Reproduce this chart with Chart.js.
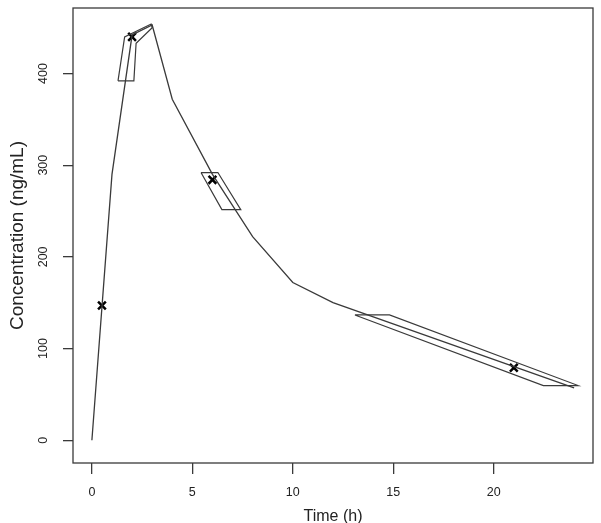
<!DOCTYPE html>
<html>
<head>
<meta charset="utf-8">
<script src="https://cdn.jsdelivr.net/npm/chart.js@4.4.1/dist/chart.umd.min.js"></script>
<style>
  html, body { margin: 0; padding: 0; background: #fff; }
  #wrap { width: 601px; height: 523px; position: relative; }
</style>
</head>
<body>
<div id="wrap"><canvas id="chart"></canvas></div>
<script>
// curva de concentración
const curveTime = [0, 1, 2, 3, 4, 6, 8, 10, 12, 24];
const curveConc = [0, 290, 442, 453, 372, 290, 222, 172, 150, 57];

// observaciones (x)
const obsTime = [0.5, 2, 6, 21];
const obsConc = [147, 440, 284, 79];

// cajas de incertidumbre (polígonos cerrados)
const box1Time = [1.30, 1.63, 2.95, 3.0, 2.20, 2.09, 1.30];
const box1Conc = [392, 440, 454, 450, 433, 392, 392];
const box2Time = [5.43, 6.27, 7.41, 6.47, 5.43];
const box2Conc = [292, 292, 251.5, 251.5, 292];
const box3Time = [13.09, 14.81, 24.2, 22.47, 13.09];
const box3Conc = [136.6, 136.6, 59.6, 59.6, 136.6];

// marcas de los ejes
const xTicks = [0, 5, 10, 15, 20];
const yTicks = [0, 100, 200, 300, 400];

const toPoints = (xs, ys) => xs.map((x, i) => ({ x: x, y: ys[i] }));

const lineColor = '#3a3a3a';
const textColor = '#222';
const fontFamily = '"Liberation Sans", Arial, sans-serif';

const boxDataset = (xs, ys) => ({
  data: toPoints(xs, ys),
  borderColor: lineColor,
  borderWidth: 1.2,
  pointRadius: 0,
  tension: 0,
  fill: false,
});

// dibuja el recuadro del área de trazado (estilo R)
const framePlugin = {
  id: 'frame',
  afterDatasetsDraw(chart) {
    const { ctx, chartArea } = chart;
    ctx.save();
    ctx.strokeStyle = lineColor;
    ctx.lineWidth = 1.3;
    ctx.strokeRect(chartArea.left, chartArea.top,
      chartArea.right - chartArea.left, chartArea.bottom - chartArea.top);
    ctx.restore();
  }
};

new Chart(document.getElementById('chart'), {
  type: 'line',
  data: {
    datasets: [
      {
        data: toPoints(curveTime, curveConc),
        borderColor: lineColor,
        borderWidth: 1.3,
        pointRadius: 0,
        tension: 0,
        fill: false,
      },
      boxDataset(box1Time, box1Conc),
      boxDataset(box2Time, box2Conc),
      boxDataset(box3Time, box3Conc),
      {
        data: toPoints(obsTime, obsConc),
        showLine: false,
        pointStyle: 'crossRot',
        pointRadius: 5.5,
        pointBorderWidth: 2.5,
        pointBorderColor: '#000',
        borderColor: '#000',
      },
    ],
  },
  options: {
    responsive: true,
    maintainAspectRatio: false,
    animation: false,
    events: [],
    layout: { padding: { top: 5, right: 4, left: 0, bottom: 0 } },
    plugins: {
      legend: { display: false },
      tooltip: { enabled: false },
    },
    scales: {
      x: {
        type: 'linear',
        min: -0.94,
        max: 24.94,
        afterBuildTicks: (scale) => { scale.ticks = xTicks.map(v => ({ value: v })); },
        afterFit: (scale) => {
          scale.height = 60;
          scale.paddingLeft = 0;
          scale.paddingRight = 0;
        },
        grid: { drawOnChartArea: false, drawTicks: true, tickLength: 11, color: lineColor, lineWidth: 1.3 },
        border: { display: false },
        ticks: {
          color: textColor,
          font: { family: fontFamily, size: 12.5 },
          padding: 11,
          maxRotation: 0,
          autoSkip: false,
        },
        title: {
          display: true,
          text: 'Time (h)',
          color: textColor,
          font: { family: fontFamily, size: 16, lineHeight: 0.75 },
          padding: 0,
        },
      },
      y: {
        type: 'linear',
        min: -24.9,
        max: 471.5,
        afterBuildTicks: (scale) => { scale.ticks = yTicks.map(v => ({ value: v })); },
        afterFit: (scale) => {
          scale.width = 73;
          scale.paddingTop = 0;
          scale.paddingBottom = 0;
        },
        grid: { drawOnChartArea: false, drawTicks: true, tickLength: 10, color: lineColor, lineWidth: 1.3 },
        border: { display: false },
        ticks: {
          color: textColor,
          font: { family: fontFamily, size: 12.5 },
          minRotation: 90,
          maxRotation: 90,
          crossAlign: 'center',
          padding: 9,
          autoSkip: false,
        },
        title: {
          display: true,
          text: 'Concentration (ng/mL)',
          color: textColor,
          font: { family: fontFamily, size: 19, lineHeight: 1 },
          padding: { top: 8.5, bottom: 0 },
        },
      },
    },
  },
  plugins: [framePlugin],
});
</script>
</body>
</html>
